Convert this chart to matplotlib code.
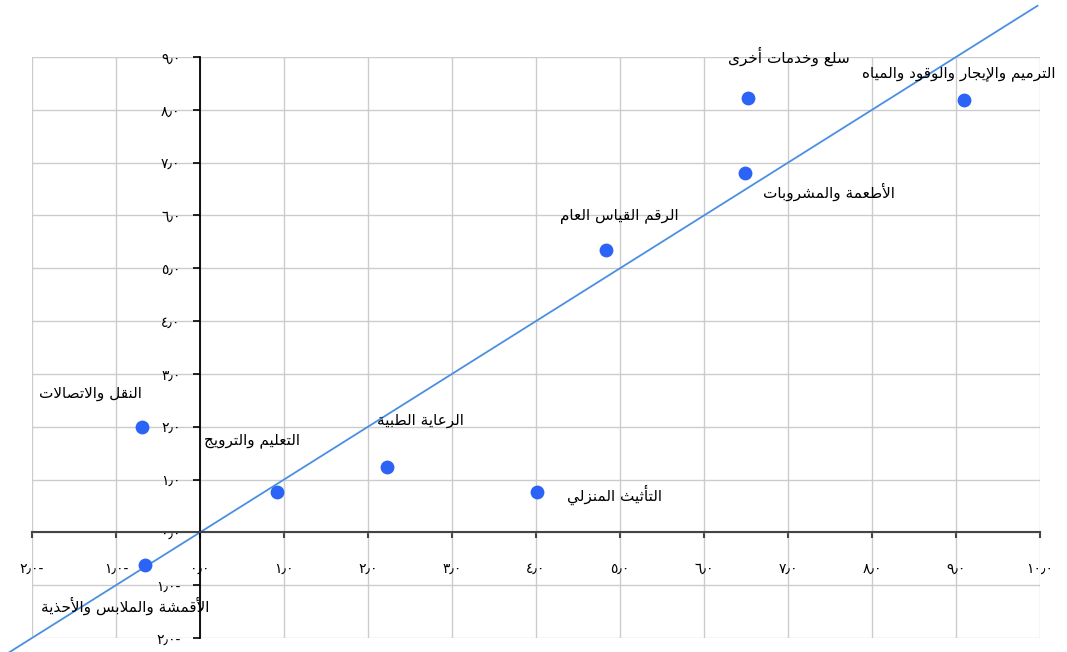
import matplotlib
matplotlib.use("Agg")
import matplotlib.pyplot as plt

# ---------------- data ----------------
categories = [
    "النقل والاتصالات",
    "التعليم والترويج",
    "الرعاية الطبية",
    "التأثيث المنزلي",
    "الرقم القياس العام",
    "الأطعمة والمشروبات",
    "سلع وخدمات أخرى",
    "الترميم والإيجار والوقود والمياه",
    "الأقمشة والملابس والأحذية",
]
x_values = [-0.69, 0.92, 2.23, 4.01, 4.83, 6.49, 6.52, 9.10, -0.66]
y_values = [2.00, 0.76, 1.23, 0.76, 5.35, 6.81, 8.23, 8.19, -0.61]

x_ticks = [-2, -1, 0, 1, 2, 3, 4, 5, 6, 7, 8, 9, 10]
x_tick_labels = ["٢٫٠-", "١٫٠-", "٠٫٠", "١٫٠", "٢٫٠", "٣٫٠", "٤٫٠", "٥٫٠",
                 "٦٫٠", "٧٫٠", "٨٫٠", "٩٫٠", "١٠٫٠"]
y_ticks = [-2, -1, 0, 1, 2, 3, 4, 5, 6, 7, 8, 9]
y_tick_labels = ["٢٫٠-", "١٫٠-", "٠٫٠", "١٫٠", "٢٫٠", "٣٫٠", "٤٫٠", "٥٫٠",
                 "٦٫٠", "٧٫٠", "٨٫٠", "٩٫٠"]

# trend line y = x
trend_x = [-2.27, 9.97]
trend_y = [-2.27, 9.97]

# label offsets (points) relative to each point
label_offsets = [(-37, 24), (-18, 37), (24, 34), (56, -2), (10, 24),
                 (60, -14), (30, 30), (-4, 19), (-14, -30)]

# ---------------- minimal Arabic shaping ----------------
DUAL = {'ئ': 0xFE89, 'ب': 0xFE8F, 'ت': 0xFE95, 'ث': 0xFE99, 'ج': 0xFE9D,
        'ح': 0xFEA1, 'خ': 0xFEA5, 'س': 0xFEB1, 'ش': 0xFEB5, 'ص': 0xFEB9,
        'ض': 0xFEBD, 'ط': 0xFEC1, 'ظ': 0xFEC5, 'ع': 0xFEC9, 'غ': 0xFECD,
        'ف': 0xFED1, 'ق': 0xFED5, 'ك': 0xFED9, 'ل': 0xFEDD, 'م': 0xFEE1,
        'ن': 0xFEE5, 'ه': 0xFEE9, 'ي': 0xFEF1}
RIGHT = {'آ': 0xFE81, 'أ': 0xFE83, 'ؤ': 0xFE85, 'إ': 0xFE87, 'ا': 0xFE8D,
         'ة': 0xFE93, 'د': 0xFEA9, 'ذ': 0xFEAB, 'ر': 0xFEAD, 'ز': 0xFEAF,
         'و': 0xFEED, 'ى': 0xFEEF,
         'لآ': 0xFEF5, 'لأ': 0xFEF7, 'لإ': 0xFEF9, 'لا': 0xFEFB}


def shape_ar(s):
    units = []
    i = 0
    while i < len(s):
        c = s[i]
        if c == 'ل' and i + 1 < len(s) and s[i + 1] in 'اأإآ':
            units.append(c + s[i + 1])
            i += 2
        else:
            units.append(c)
            i += 1
    out = []
    for k, u in enumerate(units):
        prev = units[k - 1] if k > 0 else None
        nxt = units[k + 1] if k + 1 < len(units) else None
        if u in DUAL:
            jp = prev in DUAL
            jn = (nxt in DUAL) or (nxt in RIGHT)
            form = 3 if (jp and jn) else 1 if jp else 2 if jn else 0
            out.append(chr(DUAL[u] + form))
        elif u in RIGHT:
            jp = prev in DUAL
            out.append(chr(RIGHT[u] + (1 if jp else 0)))
        elif u == 'ء':
            out.append('\uFE80')
        else:
            out.append(u)
    return ''.join(reversed(out))


# ---------------- plot ----------------
plt.rcParams['font.family'] = ['DejaVu Sans']
fig = plt.figure(figsize=(10.67, 6.52), dpi=100)
ax = fig.add_axes([32 / 1067, 1 - 638 / 652, (1040 - 32) / 1067, (638 - 57) / 652])

ax.set_xlim(-2, 10)
ax.set_ylim(-2, 9)
ax.set_xticks(x_ticks)
ax.set_yticks(y_ticks)
ax.set_xticklabels(x_tick_labels, fontsize=8.5)
ax.set_yticklabels(y_tick_labels, fontsize=8.5)

ax.grid(True, color='#cccccc', linewidth=1.0, zorder=0)
ax.set_axisbelow(True)

for side in ['top', 'right']:
    ax.spines[side].set_visible(False)
ax.spines['left'].set_position(('data', 0))
ax.spines['bottom'].set_position(('data', 0))
ax.spines['left'].set_color('black')
ax.spines['left'].set_linewidth(1.3)
ax.spines['bottom'].set_color('#444444')
ax.spines['bottom'].set_linewidth(1.5)

ax.tick_params(axis='y', direction='out', length=5, width=1.2, color='black',
               pad=9, labelcolor='black')
ax.tick_params(axis='x', direction='out', length=4, width=1.5, color='#444444',
               pad=17, labelcolor='black')

ax.plot(trend_x, trend_y, color='#4a90e2', linewidth=1.3, clip_on=False, zorder=2)

ax.scatter(x_values, y_values, s=80, color='#2b63f7', zorder=3, clip_on=False)

for name, xv, yv, off in zip(categories, x_values, y_values, label_offsets):
    ax.annotate(shape_ar(name), (xv, yv), xytext=off, textcoords='offset points',
                ha='center', va='center', fontsize=11, color='black', zorder=4,
                annotation_clip=False)

fig.savefig('out.png', dpi=100)
